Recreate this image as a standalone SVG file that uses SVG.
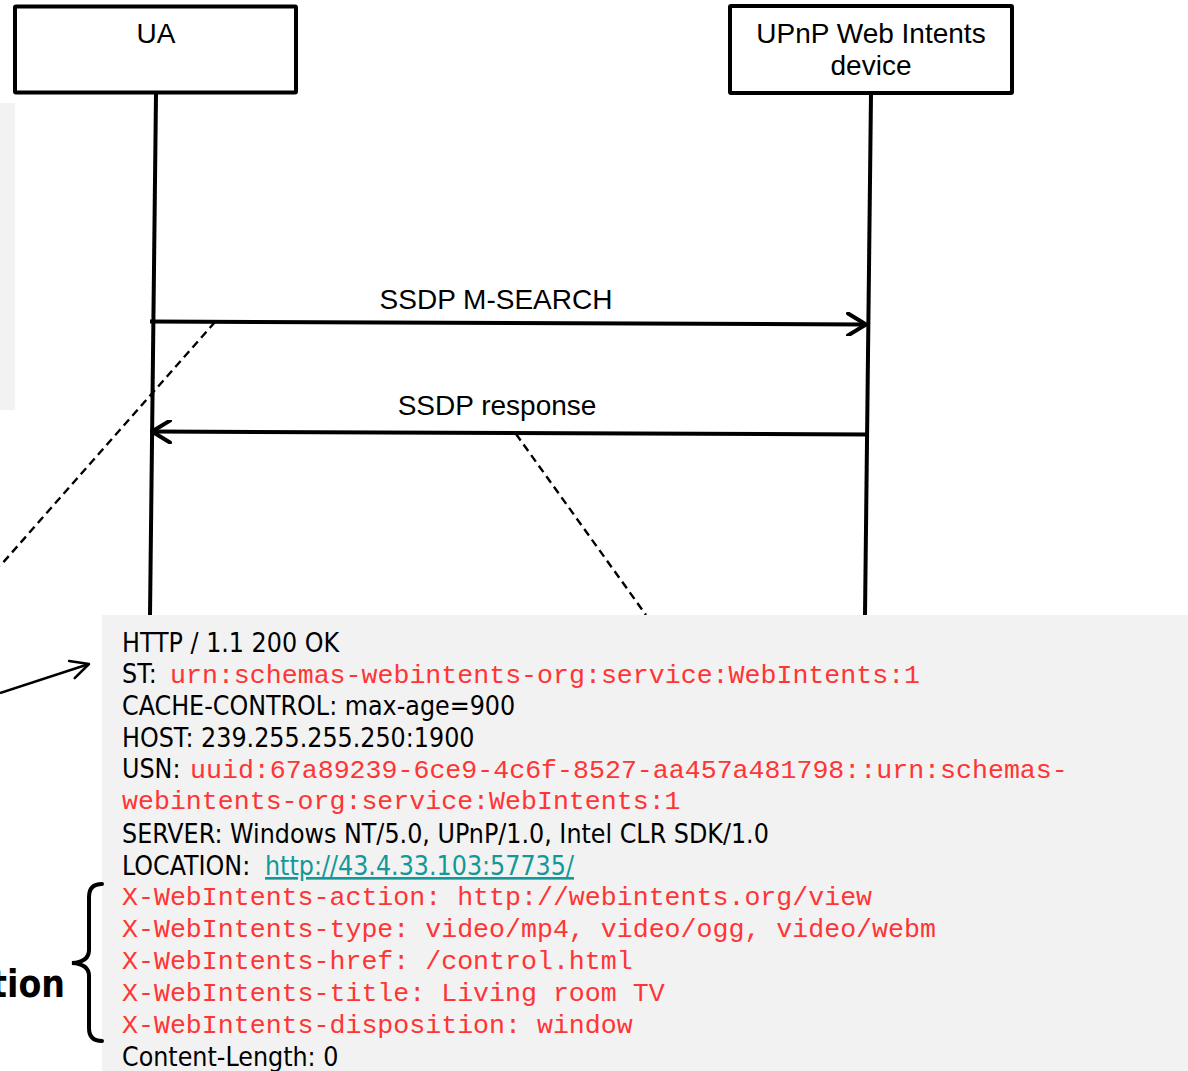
<svg xmlns="http://www.w3.org/2000/svg" width="1188" height="1071" viewBox="0 0 1188 1071">
<defs>
<style>
.box{fill:#fff;stroke:#000;stroke-width:4;}
.lbl{font-family:"Liberation Sans",Arial,sans-serif;font-size:28px;fill:#000;text-anchor:middle;}
.life{stroke:#000;stroke-width:4;fill:none;}
.msg{stroke:#000;stroke-width:4;fill:none;}
.dash{stroke:#000;stroke-width:2.4;fill:none;stroke-dasharray:8 5;}
.t{font-family:"DejaVu Sans Condensed","DejaVu Sans",sans-serif;font-size:26.5px;fill:#000;}
.m{font-family:"Liberation Mono","Courier New",monospace;font-size:26.6px;fill:#ff3535;}
.lnk{fill:#129898;text-decoration:underline;}
</style>
<marker id="open" viewBox="0 0 24 24" markerWidth="24" markerHeight="24" refX="20" refY="12" orient="auto" markerUnits="userSpaceOnUse">
<path d="M2,1 L20,12 L2,23" fill="none" stroke="#000" stroke-width="4" stroke-linecap="round" stroke-linejoin="round"/>
</marker>
<marker id="open2" viewBox="0 0 24 24" markerWidth="24" markerHeight="24" refX="21" refY="12" orient="auto" markerUnits="userSpaceOnUse">
<path d="M3,3 L21,12 L3,21" fill="none" stroke="#000" stroke-width="2.5" stroke-linecap="round" stroke-linejoin="round"/>
</marker>
</defs>

<rect x="0" y="103" width="15" height="307" fill="#f2f2f2"/>

<g id="ua">
<rect class="box" x="15" y="6.5" width="281" height="86" rx="1"/>
<text class="lbl" x="156" y="43">UA</text>
</g>
<g id="device">
<rect class="box" x="730" y="6" width="282" height="87" rx="1"/>
<text class="lbl" x="871" y="43">UPnP Web Intents</text>
<text class="lbl" x="871" y="75">device</text>
</g>

<g id="connectors">
<line class="life" x1="156" y1="94" x2="150" y2="616"/>
<line class="life" x1="871" y1="94" x2="865" y2="616"/>
<line class="msg" x1="150" y1="321.5" x2="866" y2="324.5" marker-end="url(#open)"/>
<text class="lbl" x="496" y="309">SSDP M-SEARCH</text>
<line class="msg" x1="869" y1="434.5" x2="152" y2="431.5" marker-end="url(#open)"/>
<text class="lbl" x="497" y="415">SSDP response</text>
<line class="dash" x1="215" y1="322" x2="0" y2="566"/>
<line class="dash" x1="516" y1="434" x2="646" y2="615"/>
<line x1="0" y1="693" x2="89" y2="664" stroke="#000" stroke-width="2.5" marker-end="url(#open2)"/>
</g>

<g id="message">
<rect x="102" y="615" width="1086" height="456" fill="#f2f2f2"/>
<text class="t" x="122" y="652">HTTP / 1.1 200 OK</text>
<text class="t" x="122" y="683">ST: <tspan class="m" x="170">urn:schemas-webintents-org:service:WebIntents:1</tspan></text>
<text class="t" x="122" y="715">CACHE-CONTROL: max-age=900</text>
<text class="t" x="122" y="747">HOST: 239.255.255.250:1900</text>
<text class="t" x="122" y="778">USN: <tspan class="m" x="190">uuid:67a89239-6ce9-4c6f-8527-aa457a481798::urn:schemas-</tspan></text>
<text class="m" x="122" y="809">webintents-org:service:WebIntents:1</text>
<text class="t" x="122" y="843">SERVER: Windows NT/5.0, UPnP/1.0, Intel CLR SDK/1.0</text>
<text class="t" x="122" y="875">LOCATION: <tspan class="lnk" x="265">http://43.4.33.103:57735/</tspan></text>
<text class="m" x="122" y="905">X-WebIntents-action: http://webintents.org/view</text>
<text class="m" x="122" y="937">X-WebIntents-type: video/mp4, video/ogg, video/webm</text>
<text class="m" x="122" y="969">X-WebIntents-href: /control.html</text>
<text class="m" x="122" y="1001">X-WebIntents-title: Living room TV</text>
<text class="m" x="122" y="1033">X-WebIntents-disposition: window</text>
<text class="t" x="122" y="1066">Content-Length: 0</text>
</g>

<g id="brace">
<path d="M102,884 Q89,884 89,897 L89,950 Q89,962 72,963 Q89,964 89,976 L89,1028 Q89,1041 102,1041" fill="none" stroke="#000" stroke-width="4" stroke-linecap="round"/>
<text x="65" y="997" font-family="'DejaVu Sans Condensed','DejaVu Sans',sans-serif" font-size="37" font-weight="bold" text-anchor="end">tion</text>
</g>
</svg>
